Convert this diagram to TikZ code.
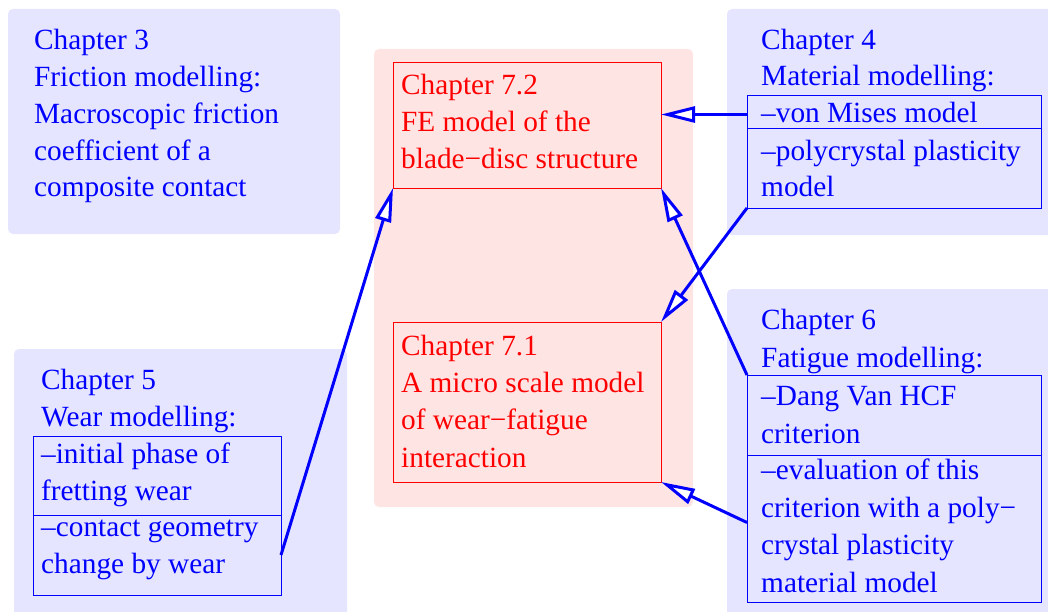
\documentclass[tikz,border=0pt]{standalone}
\usepackage{fontspec}
\setmainfont{Liberation Serif}
\usetikzlibrary{arrows.meta}
\definecolor{lav}{RGB}{229,229,255}
\definecolor{pinkbg}{RGB}{255,228,228}
\begin{document}
\begin{tikzpicture}[x=1pt,y=-1pt,
  bg/.style={fill=lav, draw=none, rounded corners=5pt, inner sep=0pt, outer sep=0pt, anchor=north west},
  corebg/.style={fill=pinkbg, draw=none, rounded corners=5pt, inner sep=0pt, outer sep=0pt, anchor=north west},
  redbox/.style={draw=red, line width=0.9pt, inner sep=0pt, outer sep=0pt, anchor=north west},
  itembox/.style={draw=blue, line width=0.9pt, inner sep=0pt, outer sep=0pt, anchor=north west},
  btxt/.style={text=blue, anchor=base west, align=left, inner sep=0pt, font=\fontsize{29.3}{36.9}\selectfont},
  rtxt/.style={text=red, anchor=base west, align=left, inner sep=0pt, font=\fontsize{29.3}{37.2}\selectfont},
  arr/.style={draw=blue, line width=3pt, -{Triangle[fill=white,length=34pt,width=16pt]}}]
\useasboundingbox (0,0) rectangle (1048,612);
% backgrounds
\node[bg, minimum width=332pt, minimum height=225pt] (ch3bg) at (8,9) {};
\node[bg, minimum width=340pt, minimum height=226pt] (ch4bg) at (727,9) {};
\node[bg, minimum width=340pt, minimum height=340pt] (ch6bg) at (727,289) {};
\node[bg, minimum width=333pt, minimum height=280pt] (ch5bg) at (14,349) {};
\node[corebg, minimum width=319pt, minimum height=458pt] (corebg) at (374,49) {};
% red boxes
\node[redbox, minimum width=268pt, minimum height=126pt] (r72) at (393,62) {};
\node[redbox, minimum width=268pt, minimum height=160pt] (r71) at (393,322) {};
% item boxes
\node[itembox, minimum width=294pt, minimum height=33pt] (ch4a) at (747,95) {};
\node[itembox, minimum width=294pt, minimum height=80pt] (ch4b) at (747,128) {};
\node[itembox, minimum width=294pt, minimum height=80pt] (ch6a) at (747,375) {};
\node[itembox, minimum width=294pt, minimum height=147pt] (ch6b) at (747,455) {};
\node[itembox, minimum width=248pt, minimum height=79pt] (ch5a) at (33,436) {};
\node[itembox, minimum width=248pt, minimum height=80pt] (ch5b) at (33,515) {};
% texts (anchored at the baseline of the last line)
\node[btxt] (ch3t) at (34,197) {Chapter 3\\Friction modelling:\\Macroscopic friction\\coefficient of a\\composite contact};
\node[btxt] (ch4t) at (761,86) {Chapter 4\\Material modelling:};
\node[btxt] (ch4at) at (761,123) {–von Mises model};
\node[btxt] (ch4bt) at (761,197) {–polycrystal plasticity\\model};
\node[btxt, font=\fontsize{29.3}{37.5}\selectfont] (ch6t) at (761,367) {Chapter 6\\Fatigue modelling:};
\node[btxt, font=\fontsize{29.3}{37.5}\selectfont] (ch6at) at (761,443) {–Dang Van HCF\\criterion};
\node[btxt, font=\fontsize{29.3}{37.5}\selectfont] (ch6bt) at (761,592) {–evaluation of this\\criterion with a poly−\\crystal plasticity\\material model};
\node[btxt] (ch5t) at (41,426) {Chapter 5\\Wear modelling:};
\node[btxt] (ch5at) at (41,500) {–initial phase of\\fretting wear};
\node[btxt] (ch5bt) at (41,573) {–contact geometry\\change by wear};
\node[rtxt] (r72t) at (401,169) {Chapter 7.2\\FE model of the\\blade−disc structure};
\node[rtxt] (r71t) at (401,467) {Chapter 7.1\\A micro scale model\\of wear−fatigue\\interaction};
% connectors
\draw[arr] ([yshift=-3pt]ch4a.west) -- ([yshift=-3pt]ch4a.west -| r72.east);
\draw[arr] (ch4b.south west) -- (r71.north east);
\draw[arr] (ch6a.north west) -- (r72.south east);
\draw[arr] ([yshift=6pt]ch6b.west) -- (r71.south east);
\draw[arr] (ch5b.east) -- (r72.south west);
\end{tikzpicture}
\end{document}
